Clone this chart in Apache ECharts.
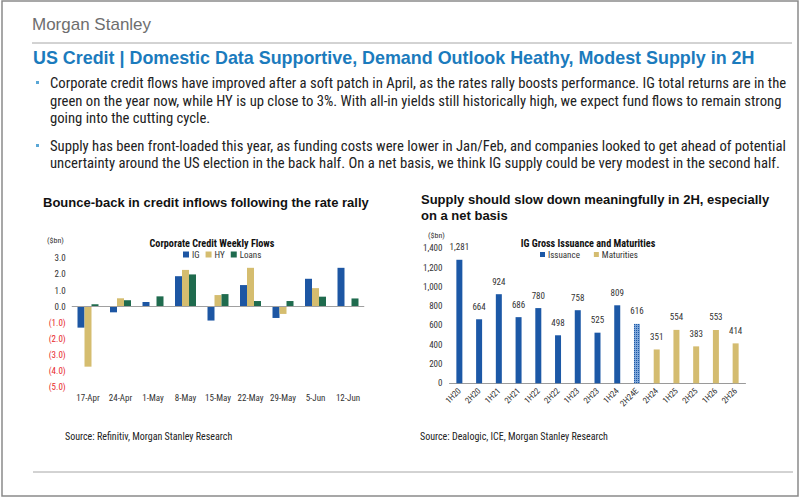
<!DOCTYPE html>
<html><head><meta charset="utf-8">
<script src="https://cdn.jsdelivr.net/npm/echarts@6/dist/echarts.min.js"></script>
<style>html,body{margin:0;padding:0;background:#fff}#c{width:802px;height:498px}</style>
</head><body><div id="c"></div>
<script>
// ---- Data ----
const flowWeeks = ['17-Apr','24-Apr','1-May','8-May','15-May','22-May','29-May','5-Jun','12-Jun'];
const flowIG    = [-1.30,-0.35,0.29,1.89,-0.86,1.34,-0.70,1.73,2.41];
const flowHY    = [-3.72,0.52,0.02,2.28,0.72,2.41,-0.45,1.15,0];
const flowLoans = [0.15,0.40,0.64,2.00,0.78,0.35,0.35,0.62,0.51];
const flowTicks = [-5,-4,-3,-2,-1,0,1,2,3];

const halfYears  = ['1H20','2H20','1H21','2H21','1H22','2H22','1H23','2H23','1H24','2H24E','2H24','1H25','2H25','1H26','2H26'];
const issuance   = [1281,664,924,686,780,498,758,525,809,616,null,null,null,null,null];
const maturities = [null,null,null,null,null,null,null,null,null,null,351,554,383,553,414];
const estimateCategory = '2H24E';

const NARROW = "'Liberation Sans Narrow','Arial Narrow','Roboto Condensed','Liberation Sans',sans-serif";
const SANS = "'Liberation Sans',Arial,sans-serif";

const chart = echarts.init(document.getElementById('c'), null, {renderer:'svg'});

const fmtFlow = v => v < 0 ? '(' + Math.abs(v).toFixed(1) + ')' : v.toFixed(1);
const fmtThou = v => String(v).replace(/\B(?=(\d{3})+(?!\d))/g, ',');

function txt(x, y, text, style){
  return {type:'text', x, y, style: Object.assign({text, fill:'#222', font:'14px '+NARROW, textVerticalAlign:'middle'}, style)};
}
const bulletColor = '#5aa7d6';
const paraFont = '14.7px ' + NARROW;
const graphics = [
  {type:'rect', shape:{x:2,y:1,width:796,height:495}, style:{fill:'none', stroke:'#8a8a8a', lineWidth:1.5}},
  txt(32, 24, 'Morgan Stanley', {fill:'#6e6e6e', font:'17px '+SANS}),
  {type:'line', shape:{x1:32,y1:43,x2:792,y2:43}, style:{stroke:'#a6a6a6', lineWidth:1}},
  txt(33, 58, 'US Credit | Domestic Data Supportive, Demand Outlook Heathy, Modest Supply in 2H', {fill:'#1b7bbd', font:'bold 17.9px '+SANS}),
  {type:'rect', shape:{x:36,y:81,width:3,height:3}, style:{fill:bulletColor}},
  txt(50, 83, 'Corporate credit flows have improved after a soft patch in April, as the rates rally boosts performance. IG total returns are in the', {font:paraFont}),
  txt(50, 101, 'green on the year now, while HY is up close to 3%. With all-in yields still historically high, we expect fund flows to remain strong', {font:paraFont}),
  txt(50, 118, 'going into the cutting cycle.', {font:paraFont}),
  {type:'rect', shape:{x:36,y:144,width:3,height:3}, style:{fill:bulletColor}},
  txt(50, 146, 'Supply has been front-loaded this year, as funding costs were lower in Jan/Feb, and companies looked to get ahead of potential', {font:paraFont}),
  txt(50, 163, 'uncertainty around the US election in the back half. On a net basis, we think IG supply could be very modest in the second half.', {font:paraFont}),
  txt(43, 202, 'Bounce-back in credit inflows following the rate rally', {font:'bold 13px '+SANS, fill:'#111'}),
  txt(421, 199, 'Supply should slow down meaningfully in 2H, especially', {font:'bold 13px '+SANS, fill:'#111'}),
  txt(421, 215, 'on a net basis', {font:'bold 13px '+SANS, fill:'#111'}),
  txt(47, 240, '($bn)', {font:'8px '+NARROW, fill:'#333'}),
  txt(428, 235, '($bn)', {font:'8px '+NARROW, fill:'#333'}),
  txt(65, 436, 'Source: Refinitiv, Morgan Stanley Research', {font:'10px '+NARROW, fill:'#222'}),
  txt(420, 436, 'Source: Dealogic, ICE, Morgan Stanley Research', {font:'10px '+NARROW, fill:'#222'}),
  {type:'line', shape:{x1:33,y1:472,x2:793,y2:472}, style:{stroke:'#a6a6a6', lineWidth:1}}
];

const C_IG = '#1d56a3', C_HY = '#d5bd6f', C_LO = '#1f6b4e', C_ISS = '#1c58a6', C_MAT = '#d4bc70';

const option = {
  animation:false,
  textStyle:{fontFamily:NARROW},
  title:[
    {text:'Corporate Credit Weekly Flows', left:207, top:233, textAlign:'center',
     textStyle:{fontSize:10.2, fontWeight:'bold', color:'#111', fontFamily:NARROW}},
    {text:'IG Gross Issuance and Maturities', left:583, top:233, textAlign:'center',
     textStyle:{fontSize:10.2, fontWeight:'bold', color:'#111', fontFamily:NARROW}}
  ],
  legend:[
    {data:['IG','HY','Loans'], left:178, top:245, itemWidth:6, itemHeight:6, itemGap:6, icon:'rect',
     textStyle:{fontSize:9, color:'#333', padding:[0,0,0,-2]}},
    {data:['Issuance','Maturities'], left:535, top:245, itemWidth:5, itemHeight:5, itemGap:14, icon:'rect',
     textStyle:{fontSize:9, color:'#333', padding:[0,0,0,-2]}}
  ],
  grid:[
    {left:71.75, width:292.5, top:258.3, height:129},
    {left:449.5, width:296, top:248.3, height:135}
  ],
  xAxis:[
    {type:'category', gridIndex:0, data:flowWeeks, axisLine:{show:false, onZero:false}, axisTick:{show:false},
     axisLabel:{fontSize:9, color:'#333', margin:6, interval:0}},
    {type:'category', gridIndex:1, data:halfYears, axisLine:{show:true, lineStyle:{color:'#9a9a9a'}}, axisTick:{show:false},
     axisLabel:{fontSize:8.5, color:'#333', rotate:45, margin:6, interval:0}}
  ],
  yAxis:[
    {type:'value', gridIndex:0, min:flowTicks[0], max:flowTicks[flowTicks.length-1], interval:1,
     splitLine:{show:false}, axisLine:{show:false}, axisTick:{show:false},
     axisLabel:{fontSize:9, margin:6, formatter:fmtFlow, color:v => (v < 0 ? '#e8282b' : '#333')}},
    {type:'value', gridIndex:1, min:0, max:1400, interval:200,
     splitLine:{show:false}, axisLine:{show:false}, axisTick:{show:false},
     axisLabel:{fontSize:9, margin:7, color:'#333', formatter:fmtThou}}
  ],
  series:[
    {name:'IG', type:'bar', xAxisIndex:0, yAxisIndex:0, data:flowIG, barWidth:7, barGap:'0%', itemStyle:{color:C_IG},
     markLine:{silent:true, symbol:'none', label:{show:false}, lineStyle:{color:'#a0a0a0', type:'solid', width:1}, data:[{yAxis:0}]}},
    {name:'HY', type:'bar', xAxisIndex:0, yAxisIndex:0, data:flowHY, barWidth:7, barGap:'0%', itemStyle:{color:C_HY}},
    {name:'Loans', type:'bar', xAxisIndex:0, yAxisIndex:0, data:flowLoans, barWidth:7, barGap:'0%', itemStyle:{color:C_LO}},
    {name:'Issuance', type:'bar', xAxisIndex:1, yAxisIndex:1, barWidth:6, barGap:'-100%',
     data: issuance.map((v,i) => halfYears[i] === estimateCategory ?
       {value:v, itemStyle:{color:'#7ea6d8', decal:{symbol:'rect', symbolSize:1, dashArrayX:[1,1], dashArrayY:[1,1], color:'#1c58a6'}}} : v),
     itemStyle:{color:C_ISS},
     label:{show:true, position:'top', fontSize:9, color:'#333', distance:8, formatter:p => fmtThou(p.value)}},
    {name:'Maturities', type:'bar', xAxisIndex:1, yAxisIndex:1, barWidth:6, barGap:'-100%', data:maturities,
     itemStyle:{color:C_MAT},
     label:{show:true, position:'top', fontSize:9, color:'#333', distance:8, formatter:p => fmtThou(p.value)}}
  ],
  graphic: graphics
};
chart.setOption(option);
</script></body></html>
